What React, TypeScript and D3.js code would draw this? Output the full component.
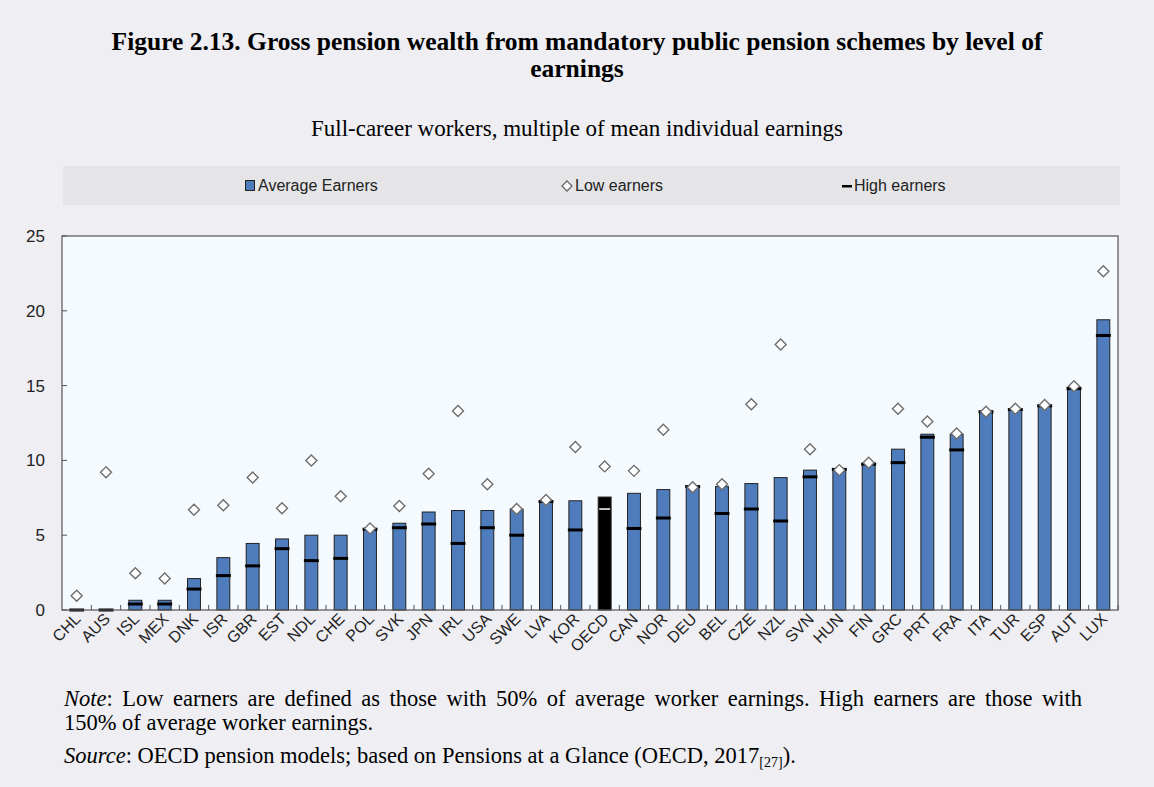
import { scaleBand, scaleLinear } from "d3";
import React, { useLayoutEffect, useRef, useState } from "react";

const countries = ["CHL", "AUS", "ISL", "MEX", "DNK", "ISR", "GBR", "EST", "NDL", "CHE", "POL", "SVK", "JPN", "IRL", "USA", "SWE", "LVA", "KOR", "OECD", "CAN", "NOR", "DEU", "BEL", "CZE", "NZL", "SVN", "HUN", "FIN", "GRC", "PRT", "FRA", "ITA", "TUR", "ESP", "AUT", "LUX"];
const averageEarners = [0, 0, 0.65, 0.65, 2.1, 3.5, 4.45, 4.75, 5.0, 5.0, 5.45, 5.8, 6.55, 6.65, 6.65, 6.75, 7.25, 7.3, 7.55, 7.8, 8.05, 8.25, 8.25, 8.45, 8.85, 9.35, 9.45, 9.8, 10.75, 11.75, 11.75, 13.3, 13.4, 13.7, 14.9, 19.4];
const lowEarners = [0.95, 9.2, 2.45, 2.1, 6.7, 7.0, 8.85, 6.8, 10.0, 7.6, 5.45, 6.95, 9.1, 13.3, 8.4, 6.75, 7.35, 10.9, 9.6, 9.3, 12.05, 8.2, 8.4, 13.75, 17.75, 10.75, 9.35, 9.85, 13.45, 12.6, 11.8, 13.25, 13.45, 13.7, 14.95, 22.65];
const highEarners = [0, 0, 0.4, 0.4, 1.4, 2.3, 2.95, 4.1, 3.3, 3.45, 5.4, 5.5, 5.75, 4.45, 5.5, 5.0, 7.25, 5.35, 6.75, 5.45, 6.15, 8.25, 6.45, 6.75, 5.95, 8.9, 9.4, 9.75, 9.85, 11.55, 10.7, 13.25, 13.4, 13.65, 14.8, 18.35];
const yTicks = [0, 5, 10, 15, 20, 25];

const W = 1154;
const H = 787;
const plot = { left: 62, right: 1118, top: 236, bottom: 610 };
const sans = "'Liberation Sans', Arial, sans-serif";
const serif = "'Liberation Serif', 'Times New Roman', serif";
const blue = "#4f7cbd";

const NOTE_REST = ": Low earners are defined as those with 50% of average worker earnings. High earners are those with";

const App = () => {
  const noteRef = useRef<SVGTextElement>(null);
  const [wordSpacing, setWordSpacing] = useState(0);

  // justify the first note line like the original paragraph
  useLayoutEffect(() => {
    if (!noteRef.current) return;
    const len = noteRef.current.getComputedTextLength();
    const spaces = ("Note" + NOTE_REST).split(" ").length - 1;
    setWordSpacing(Math.max(0, (1018 - len) / spaces));
  }, []);

  const x = scaleBand<string>()
    .domain(countries)
    .range([plot.left, plot.right])
    .paddingInner(0.56)
    .paddingOuter(0.28);
  const y = scaleLinear().domain([0, 25]).range([plot.bottom, plot.top]);
  const step = x.step();
  const bw = x.bandwidth();

  return (
    <div style={{ position: "absolute", left: 0, top: 0 }}>
      <svg width={W} height={H} style={{ display: "block" }}>
        <rect x={0} y={0} width={W} height={H} fill="#eeeef3" />

        {/* titles */}
        <text x={577} y={50} textAnchor="middle" fontFamily={serif} fontWeight="bold" fontSize={25.5} fill="#000">
          Figure 2.13. Gross pension wealth from mandatory public pension schemes by level of
        </text>
        <text x={577} y={77} textAnchor="middle" fontFamily={serif} fontWeight="bold" fontSize={25.5} fill="#000">
          earnings
        </text>
        <text x={577} y={136} textAnchor="middle" fontFamily={serif} fontSize={23} fill="#000">
          Full-career workers, multiple of mean individual earnings
        </text>

        {/* legend */}
        <rect x={63} y={166} width={1057} height={39} fill="#e5e5e7" />
        <g fontFamily={sans} fontSize={16} fill="#222">
          <rect x={245.5} y={180.5} width={9} height={10} fill={blue} stroke="#222" strokeWidth={1} />
          <text x={258} y={191}>Average Earners</text>
          <path d="M567,181 L572,186 L567,191 L562,186 Z" fill="#fff" stroke="#666" strokeWidth={1.3} />
          <text x={575} y={191}>Low earners</text>
          <rect x={842} y={185} width={10} height={2.5} fill="#000" />
          <text x={854} y={191}>High earners</text>
        </g>

        {/* plot area */}
        <rect x={plot.left} y={plot.top} width={plot.right - plot.left} height={plot.bottom - plot.top} fill="#f5fafe" />

        {/* y axis labels and ticks */}
        {yTicks.map((t) => (
          <g key={t}>
            <line x1={plot.left} x2={plot.left + 5} y1={y(t)} y2={y(t)} stroke="#555" />
            <text x={45} y={y(t) + 6} textAnchor="end" fontFamily={sans} fontSize={17} fill="#222">
              {t}
            </text>
          </g>
        ))}

        {/* category ticks */}
        {countries.map((c, i) => (
          <line
            key={"t" + c}
            x1={plot.left + step * (i + 1)}
            x2={plot.left + step * (i + 1)}
            y1={plot.bottom}
            y2={plot.bottom - 5}
            stroke="#555"
          />
        ))}

        {/* bars */}
        {countries.map((c, i) => {
          const v = averageEarners[i];
          if (v <= 0) return null;
          return (
            <rect
              key={"b" + c}
              x={x(c)}
              y={y(v)}
              width={bw}
              height={y(0) - y(v)}
              fill={c === "OECD" ? "#000" : blue}
              stroke="#222"
              strokeWidth={1}
            />
          );
        })}

        {/* high earners */}
        {countries.map((c, i) =>
          c === "OECD" ? (
            <rect key={"h" + c} x={x(c) + 1} y={y(highEarners[i]) - 0.75} width={bw - 2} height={1.5} fill="#fff" />
          ) : (
            <rect key={"h" + c} x={x(c) - 1} y={y(highEarners[i]) - 1.5} width={bw + 2} height={3} fill="#000" />
          )
        )}

        {/* low earners */}
        {countries.map((c, i) => {
          const cx = x(c) + bw / 2;
          const cy = y(lowEarners[i]);
          const r = 5.5;
          return (
            <path
              key={"l" + c}
              d={`M${cx},${cy - r} L${cx + r},${cy} L${cx},${cy + r} L${cx - r},${cy} Z`}
              fill="#fff"
              stroke="#6e6e6e"
              strokeWidth={1.4}
            />
          );
        })}

        <rect
          x={plot.left}
          y={plot.top}
          width={plot.right - plot.left}
          height={plot.bottom - plot.top}
          fill="none"
          stroke="#555"
          strokeWidth={1.2}
        />

        {/* x labels */}
        {countries.map((c) => {
          const cx = x(c) + bw / 2 + 5;
          const cy = plot.bottom + 10;
          return (
            <text
              key={"x" + c}
              x={cx}
              y={cy}
              textAnchor="end"
              transform={`rotate(-45, ${cx}, ${cy})`}
              fontFamily={sans}
              fontSize={16}
              fill="#222"
            >
              {c}
            </text>
          );
        })}

        {/* notes */}
        <g fontFamily={serif} fontSize={22.5} fill="#000">
          <text ref={noteRef} x={64} y={706} wordSpacing={wordSpacing}>
            <tspan fontStyle="italic">Note</tspan>
            {NOTE_REST}
          </text>
          <text x={64} y={730}>150% of average worker earnings.</text>
          <text x={64} y={763}>
            <tspan fontStyle="italic">Source</tspan>: OECD pension models; based on Pensions at a Glance (OECD, 2017
            <tspan fontSize={14} dy={4}>[27]</tspan>
            <tspan dy={-4}>).</tspan>
          </text>
        </g>
      </svg>
    </div>
  );
};

export default App;
